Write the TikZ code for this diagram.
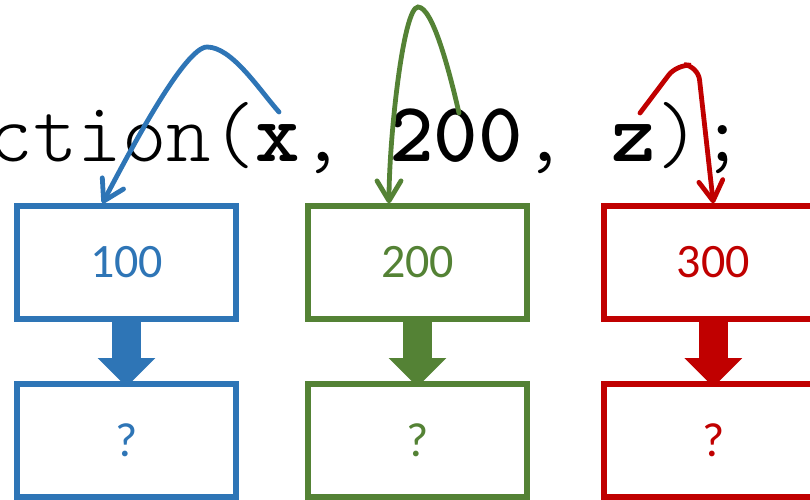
\documentclass[tikz,border=0pt]{standalone}
\usepackage{fontspec}
\setmainfont{Carlito}
\newfontfamily\codefont{lmmonolt10-regular.otf}[BoldFont=lmmonolt10-bold.otf]
\usetikzlibrary{arrows.meta}
\definecolor{cblue}{HTML}{2E75B6}
\definecolor{cgreen}{HTML}{548235}
\definecolor{cred}{HTML}{C00000}
\begin{document}
\begin{tikzpicture}[x=1pt,y=-1pt,
 box/.style={draw, line width=5.5pt, minimum width=219pt, minimum height=113pt, inner sep=0pt, font=\fontsize{48}{48}\selectfont},
 bigarrow/.style={line width=29pt, -{Triangle[length=29pt,width=56pt]}, shorten >=-6pt},
 curvearrow/.style={line width=4.8pt, line cap=round, -{Straight Barb[length=20pt,width=24pt,line cap=round,line join=round]}},
 codetext/.style={anchor=base west, inner sep=0pt, font=\codefont\fontsize{84.76}{84.76}\selectfont}
]
\path[use as bounding box, clip] (0,0) rectangle (810,499);
% boxes
\node[box, cblue] (b1) at (126.5,262.5) {100};
\node[box, cblue] (c1) at (126.5,440.3) {?};
\node[box, cgreen] (b2) at (417.5,262.5) {200};
\node[box, cgreen] (c2) at (417.5,440.3) {?};
\node[box, cred] (b3) at (713.3,262.5) {300};
\node[box, cred] (c3) at (713.3,440.3) {?};
% block arrows
\draw[bigarrow, cblue] (b1.south) -- (c1.north);
\draw[bigarrow, cgreen] (b2.south) -- (c2.north);
\draw[bigarrow, cred] (b3.south) -- (c3.north);
% code line
\node[codetext] (code) at (-11.25,161) {ction(\textbf{x}, \textbf{200}, \textbf{z});};
% curved arrows
\coordinate (s1) at (279,112);
\coordinate (s2) at (459,113);
\coordinate (s3) at (640,113);
\draw[curvearrow, cblue] (s1) .. controls (259,89.5) and (232,47) .. (207,47) .. controls (185,47) and (131,149) .. ([xshift=-24pt]b1.north);
\draw[curvearrow, cgreen] (s2) .. controls (450,74) and (433,7) .. (418,7) .. controls (403,7) and (389,140) .. ([xshift=-28.5pt]b2.north);
\draw[curvearrow, cred, rounded corners=14pt] (s3) -- (677,64) -- (698,66) -- (b3.north);
\end{tikzpicture}
\end{document}
